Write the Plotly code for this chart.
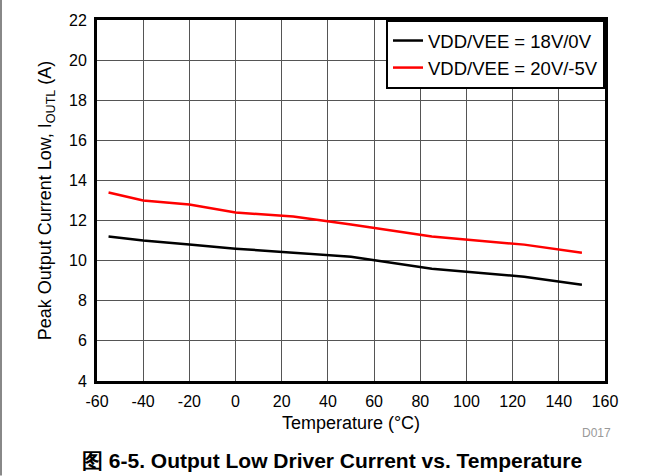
import plotly.graph_objects as go

temps = [-55, -40, -20, 0, 25, 50, 85, 100, 125, 150]
iout_18v_0v = [11.2, 11.0, 10.8, 10.6, 10.4, 10.2, 9.6, 9.45, 9.2, 8.8]
iout_20v_m5v = [13.4, 13.0, 12.8, 12.4, 12.2, 11.8, 11.2, 11.05, 10.8, 10.4]
series_names = ["VDD/VEE = 18V/0V", "VDD/VEE = 20V/-5V"]
x_ticks = list(range(-60, 161, 20))
y_ticks = list(range(4, 23, 2))

FONT = "Liberation Sans, Arial, sans-serif"

fig = go.Figure()
fig.add_trace(go.Scatter(x=temps, y=iout_18v_0v, mode="lines", name=series_names[0],
                         line=dict(color="black", width=2.5)))
fig.add_trace(go.Scatter(x=temps, y=iout_20v_m5v, mode="lines", name=series_names[1],
                         line=dict(color="#ff0000", width=2.5)))

W, H = 663, 476
L, R, T, B = 97, 58, 18, 95
pw = W - L - R
ph = H - T - B

fig.update_layout(
    width=W, height=H,
    margin=dict(l=L, r=R, t=T, b=B, pad=0),
    paper_bgcolor="white", plot_bgcolor="white",
    font=dict(family=FONT, size=16, color="black"),
    showlegend=True,
    legend=dict(x=1, y=1, xanchor="right", yanchor="top",
                bgcolor="white", bordercolor="black", borderwidth=2,
                font=dict(size=18.5, family=FONT), tracegroupgap=0,
                itemwidth=30),
    xaxis=dict(range=[-60, 160], tickvals=x_ticks, ticktext=[str(v) for v in x_ticks],
               showgrid=True, gridcolor="#555555", gridwidth=1,
               showline=True, linecolor="black", linewidth=3, mirror=True,
               ticks="", zeroline=False, tickfont=dict(size=16), ticklabelstandoff=4,
               title=dict(text="Temperature (°C)", font=dict(size=18), standoff=8)),
    yaxis=dict(range=[4, 22], tickvals=y_ticks, ticktext=[str(v) for v in y_ticks],
               showgrid=True, gridcolor="#555555", gridwidth=1,
               showline=True, linecolor="black", linewidth=3, mirror=True,
               ticks="", zeroline=False, tickfont=dict(size=16), ticklabelstandoff=4,
               title=dict(text="Peak Output Current Low, I<sub>OUTL</sub> (A)",
                          font=dict(size=18), standoff=13)),
)

# image frame (gray border at top and left)
fig.add_shape(type="line", xref="paper", yref="paper",
              x0=-L / pw, x1=(W - L) / pw, y0=(H - T - 1) / ph, y1=(H - T - 1) / ph,
              line=dict(color="#888888", width=2))
fig.add_shape(type="line", xref="paper", yref="paper",
              x0=-(L - 1) / pw, x1=-(L - 1) / pw, y0=-B / ph, y1=(H - T) / ph,
              line=dict(color="#888888", width=2))

fig.add_annotation(text="D017", xref="paper", yref="paper",
                   x=(596 - L) / pw, y=-(433 - T - ph) / ph, showarrow=False,
                   font=dict(size=12, color="#999999", family=FONT),
                   xanchor="center", yanchor="middle")
fig.add_annotation(text="<b>图 6-5. Output Low Driver Current vs. Temperature</b>",
                   xref="paper", yref="paper",
                   x=(332 - L) / pw, y=-(461 - T - ph) / ph, showarrow=False,
                   font=dict(size=21, color="black", family=FONT),
                   xanchor="center", yanchor="middle")

fig.write_html("out.html", config={"displayModeBar": False},
               post_script="document.body.style.margin='0';")
